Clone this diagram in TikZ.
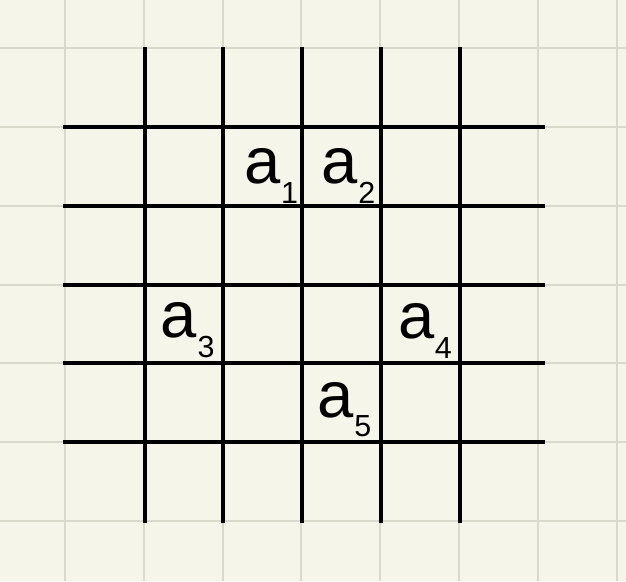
\documentclass[tikz,border=0pt]{standalone}
\usepackage{fontspec}
\setmainfont{Liberation Sans}
\usetikzlibrary{positioning}
\definecolor{gridpaper}{HTML}{F5F5E9}
\definecolor{gridfaint}{HTML}{D9D9CC}
\newcommand{\cellvar}[1]{a\kern0.2pt\raisebox{-7.2pt}{\fontsize{11}{13}\selectfont #1}}

\begin{document}
\begin{tikzpicture}[bold line/.style={line width=1.45pt, black},
    faint line/.style={line width=0.7pt, gridfaint},
    var label/.style={anchor=base west, inner sep=0pt, font=\fontsize{23.5}{28}\selectfont}]
  % paper and its faint ruling
  \fill[gridpaper] (-0.825,-0.761) rectangle (7.119,6.612);
  \useasboundingbox (-0.825,-0.761) rectangle (7.119,6.612);
  \draw[faint line] (-0.825,-0.761) grid (7.119,6.612);
  % vertical strokes
  \draw[bold line] (1.01,-0.03) -- (1.01,6.02);
  \draw[bold line] (2.01,-0.03) -- (2.01,6.02);
  \draw[bold line] (3.01,-0.03) -- (3.01,6.02);
  \draw[bold line] (4.01,-0.03) -- (4.01,6.02);
  \draw[bold line] (5.01,-0.03) -- (5.01,6.02);
  % horizontal strokes
  \draw[bold line] (-0.02,1) -- (6.09,1);
  \draw[bold line] (-0.02,2) -- (6.09,2);
  \draw[bold line] (-0.02,3) -- (6.09,3);
  \draw[bold line] (-0.02,4) -- (6.09,4);
  \draw[bold line] (-0.02,5) -- (6.09,5);
  % cell labels
  \node[var label] (a1) at (2.27,4.28) {\cellvar{1}};
  \node[var label] (a2) at (3.25,4.28) {\cellvar{2}};
  \node[var label] (a3) at (1.21,2.33) {\cellvar{3}};
  \node[var label] (a4) at (4.22,2.32) {\cellvar{4}};
  \node[var label] (a5) at (3.20,1.32) {\cellvar{5}};
\end{tikzpicture}
\end{document}
